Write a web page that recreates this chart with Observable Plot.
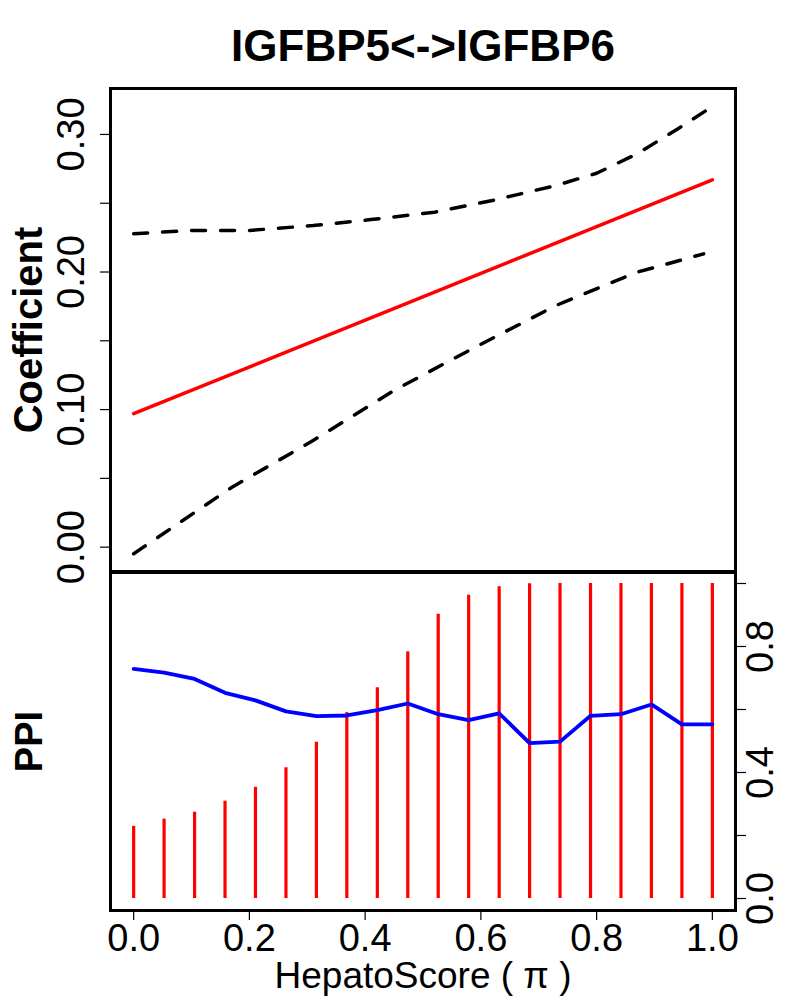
<!DOCTYPE html>
<html><head><meta charset="utf-8">
<script src="https://cdn.jsdelivr.net/npm/d3@7"></script>
<script src="https://cdn.jsdelivr.net/npm/@observablehq/plot@0.6"></script>
<style>
body{margin:0;background:#fff}
#wrap{position:relative;width:800px;height:1000px;background:#fff}
#wrap svg{position:absolute;left:0;background:transparent;overflow:visible}
</style>
</head><body><div id="wrap"></div>
<script>
const title = "IGFBP5<->IGFBP6";
const xLabel = "HepatoScore ( \u03C0 )";
const coefLabel = "Coefficient";
const ppiLabel = "PPI";

// bottom panel: grid of HepatoScore values
const xGrid = [0, 0.0526, 0.1053, 0.1579, 0.2105, 0.2632, 0.3158, 0.3684, 0.4211, 0.4737,
               0.5263, 0.5789, 0.6316, 0.6842, 0.7368, 0.7895, 0.8421, 0.8947, 0.9474, 1];
const ppiBars = [0.229, 0.252, 0.274, 0.309, 0.353, 0.415, 0.496, 0.590, 0.669, 0.783,
                 0.902, 0.963, 0.990, 0.999, 1, 1, 1, 1, 1, 1];
const blueLine = [0.729, 0.717, 0.697, 0.653, 0.629, 0.594, 0.579, 0.581, 0.598, 0.619,
                  0.585, 0.566, 0.588, 0.493, 0.498, 0.580, 0.585, 0.616, 0.553, 0.553];

// top panel: coefficient with confidence band
const coefX = [0, 1];
const coefMid = [0.097, 0.267];
const upperX = [0, 0.1, 0.2, 0.31, 0.41, 0.52, 0.62, 0.73, 0.80, 0.87, 0.94, 1.0];
const upperY = [0.2278, 0.2302, 0.2302, 0.2338, 0.2381, 0.2435, 0.252, 0.2629, 0.2718, 0.2859, 0.304, 0.3203];
const lowerX = [0, 0.17, 0.31, 0.45, 0.59, 0.73, 0.87, 0.985];
const lowerY = [-0.0048, 0.0436, 0.0775, 0.1139, 0.1453, 0.1757, 0.1999, 0.2132];

// ticks
const coefTicks = [0, 0.05, 0.10, 0.15, 0.20, 0.25, 0.30];
const coefTickLabels = [0, 0.10, 0.20, 0.30];
const xTicks = [0, 0.2, 0.4, 0.6, 0.8, 1.0];
const ppiTicks = [0, 0.2, 0.4, 0.6, 0.8, 1.0];
const ppiTickLabels = [0, 0.4, 0.8];

const FONT = "'Liberation Sans', Arial, Helvetica, sans-serif";
const has = (arr, d) => arr.some(v => Math.abs(v - d) < 1e-9);

const mid = coefX.map((x, i) => ({x, y: coefMid[i]}));
const up = upperX.map((x, i) => ({x, y: upperY[i]}));
const lo = lowerX.map((x, i) => ({x, y: lowerY[i]}));
const bars = xGrid.map((x, i) => ({x, y: ppiBars[i]}));
const blue = xGrid.map((x, i) => ({x, y: blueLine[i]}));

const dash = {stroke: "black", strokeWidth: 3.5, strokeDasharray: "14,15", strokeLinecap: "round"};

const topPlot = Plot.plot({
  width: 800, height: 573,
  marginTop: 88, marginBottom: 2, marginLeft: 110, marginRight: 65,
  style: {fontFamily: FONT, background: "transparent", overflow: "visible"},
  x: {domain: [-0.04, 1.04], axis: null},
  y: {domain: [-0.0177, 0.3334], axis: null},
  marks: [
    Plot.line(up, {x: "x", y: "y", ...dash}),
    Plot.line(lo, {x: "x", y: "y", ...dash}),
    Plot.line(mid, {x: "x", y: "y", stroke: "#ff0000", strokeWidth: 3.5}),
    Plot.axisY({ticks: coefTicks, tickSize: 10, tickPadding: 17, tickRotate: -90, label: null,
      textAnchor: "middle", lineAnchor: "bottom", fontSize: 38, strokeWidth: 1.2,
      tickFormat: d => has(coefTickLabels, d) ? d3.format(".2f")(d) : ""}),
    Plot.frame({stroke: "black", strokeWidth: 3}),
    Plot.text([title], {text: d => d, frameAnchor: "top", dy: -28, lineAnchor: "bottom",
      fontSize: 44, fontWeight: "bold", fill: "black"}),
    Plot.text([coefLabel], {text: d => d, frameAnchor: "left", dx: -69, rotate: -90,
      lineAnchor: "bottom", textAnchor: "middle", fontSize: 40, fontWeight: "bold", fill: "black"})
  ]
});

const bottomPlot = Plot.plot({
  width: 800, height: 430,
  marginTop: 2, marginBottom: 90, marginLeft: 110, marginRight: 65,
  style: {fontFamily: FONT, background: "transparent", overflow: "visible"},
  x: {domain: [-0.04, 1.04], axis: null},
  y: {domain: [-0.0381, 1.0349], axis: null},
  marks: [
    Plot.ruleX(bars, {x: "x", y1: 0, y2: "y", stroke: "#ff0000", strokeWidth: 3.2}),
    Plot.line(blue, {x: "x", y: "y", stroke: "#0000ff", strokeWidth: 3.8}),
    Plot.axisX({ticks: xTicks, tickSize: 10, tickPadding: 4, fontSize: 38, strokeWidth: 1.2,
      label: null, tickFormat: d3.format(".1f")}),
    Plot.axisY({anchor: "right", ticks: ppiTicks, tickSize: 10, tickPadding: 27, tickRotate: -90,
      label: null, textAnchor: "middle", lineAnchor: "bottom", fontSize: 38, strokeWidth: 1.2,
      tickFormat: d => has(ppiTickLabels, d) ? d3.format(".1f")(d) : ""}),
    Plot.frame({stroke: "black", strokeWidth: 3}),
    Plot.text([ppiLabel], {text: d => d, frameAnchor: "left", dx: -69, rotate: -90,
      lineAnchor: "bottom", textAnchor: "middle", fontSize: 38, fontWeight: "bold", fill: "black"}),
    Plot.text([xLabel], {text: d => d, frameAnchor: "bottom", dy: 77, lineAnchor: "bottom",
      fontSize: 37, fill: "black"})
  ]
});

const wrap = document.getElementById("wrap");
bottomPlot.style.top = "570px";
bottomPlot.style.zIndex = "1";
topPlot.style.top = "0px";
topPlot.style.zIndex = "2";
wrap.append(bottomPlot, topPlot);
</script>
</body></html>
